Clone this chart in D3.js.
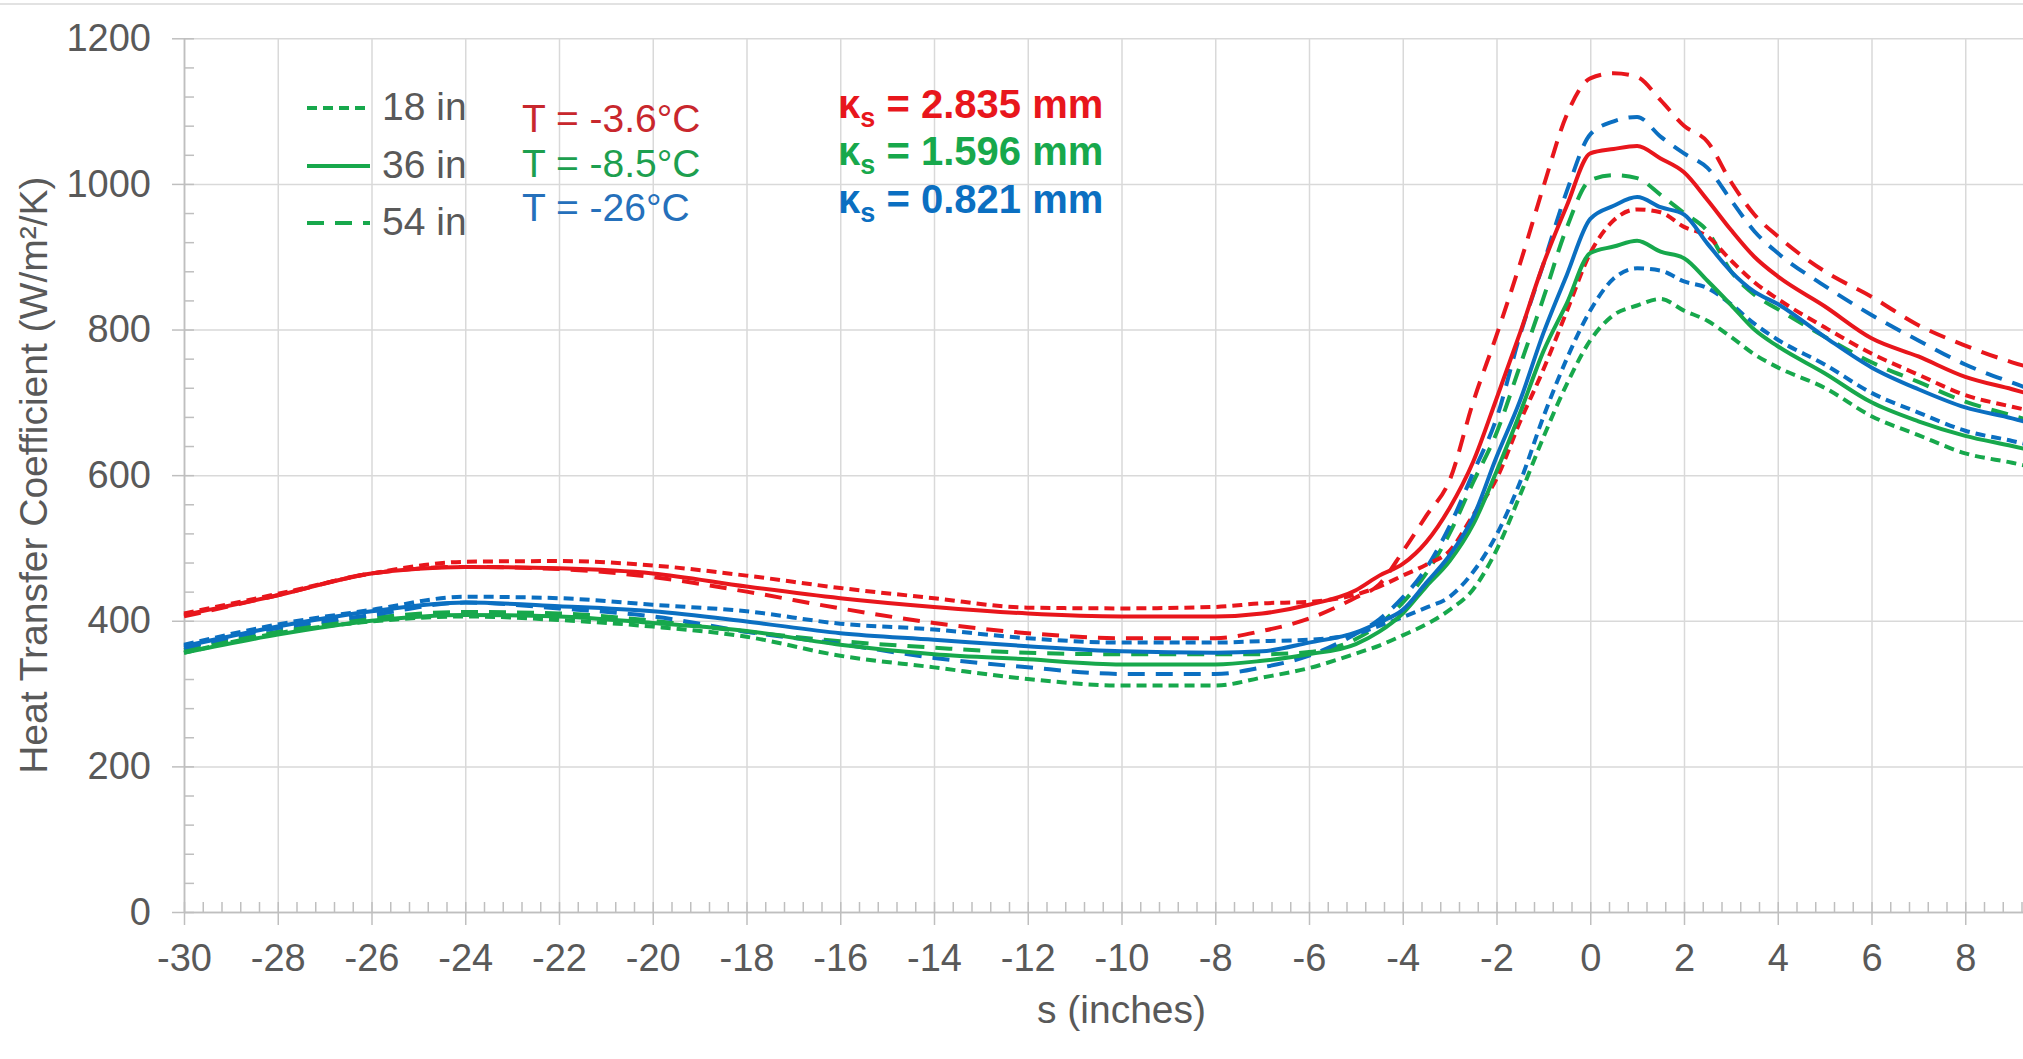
<!DOCTYPE html>
<html lang="en">
<head>
<meta charset="UTF-8">
<title>Heat Transfer Coefficient</title>
<script src="https://cdnjs.cloudflare.com/ajax/libs/d3/7.8.5/d3.min.js"></script>
<style>
  body { margin: 0; background: #fff; overflow: hidden; }
  svg { display: block; font-family: "Liberation Sans", Arial, sans-serif; }
  .axis text { fill: #595959; font-size: 38px; }
  .axis path, .axis line { stroke: #bfbfbf; stroke-width: 1.5px; }
  .grid line { stroke: #d9d9d9; stroke-width: 1.5px; }
  .grid path { display: none; }
  .label { fill: #595959; font-size: 39px; }
</style>
</head>
<body>
<svg id="chart" width="2023" height="1059"></svg>
<script>
// s positions (inches) shared by all curves
var sValues = [-30, -28, -26, -24, -22, -20, -18, -16, -14, -12, -10, -8, -7, -6, -5, -4.5, -4, -3.5, -3, -2.5,
               -2, -1.5, -1, -0.5, 0, 0.5, 1, 1.5, 2, 2.5, 3, 3.5, 4, 5, 6, 7, 8, 9, 10];

// T = -3.6°C (red)
var red18 = [410, 437, 465, 481, 482, 476, 462, 445, 431, 418, 417, 419, 424, 426, 436, 447, 462, 477, 496, 545,
             595, 673, 745, 825, 905, 950, 965, 961, 941, 928, 895, 865, 842, 803, 767, 738, 710, 694, 680];
var red36 = [408, 435, 465, 474, 472, 465, 447, 431, 419, 410, 406, 406, 410, 422, 442, 462, 478, 508, 555, 618,
             705, 795, 890, 970, 1042, 1048, 1052, 1035, 1016, 978, 937, 900, 873, 832, 788, 763, 735, 718, 700];
var red54 = [406, 435, 465, 474, 471, 460, 440, 417, 397, 383, 376, 376, 386, 403, 432, 450, 495, 544, 593, 700,
             792, 890, 996, 1095, 1145, 1152, 1147, 1115, 1080, 1058, 1003, 958, 928, 880, 845, 806, 778, 755, 738];

// T = -8.5°C (green)
var green18 = [356, 383, 399, 406, 401, 392, 378, 352, 336, 320, 311, 311, 322, 335, 355, 366, 380, 395, 415, 443,
               497, 572, 652, 725, 785, 820, 833, 842, 826, 812, 790, 766, 748, 720, 681, 655, 630, 617, 603];
var green36 = [356, 381, 400, 408, 406, 397, 386, 367, 354, 347, 340, 340, 345, 354, 368, 385, 410, 447, 482, 532,
               605, 685, 770, 836, 905, 914, 922, 907, 898, 867, 834, 800, 777, 740, 700, 674, 654, 640, 625];
var green54 = [360, 385, 404, 412, 410, 400, 385, 372, 363, 356, 354, 354, 354, 357, 375, 395, 425, 465, 520, 590,
               658, 750, 843, 940, 1005, 1012, 1008, 985, 960, 935, 880, 848, 828, 790, 755, 728, 701, 682, 664];

// T = -26°C (blue)
var blue18 = [367, 395, 415, 433, 431, 422, 413, 396, 388, 376, 370, 370, 372, 374, 382, 393, 405, 418, 433, 467,
              518, 590, 680, 760, 826, 870, 884, 881, 866, 857, 835, 808, 786, 752, 713, 686, 661, 647, 632];
var blue36 = [365, 392, 413, 425, 420, 413, 399, 383, 374, 365, 358, 356, 358, 370, 384, 398, 415, 452, 490, 542,
              625, 702, 795, 875, 952, 970, 982, 968, 958, 918, 880, 852, 835, 790, 748, 718, 693, 678, 660];
var blue54 = [363, 390, 408, 425, 417, 406, 385, 368, 349, 336, 327, 327, 336, 352, 382, 402, 432, 472, 530, 603,
              678, 792, 890, 990, 1068, 1086, 1092, 1065, 1042, 1022, 978, 935, 905, 860, 820, 785, 752, 727, 705];

var distances = ["18 in", "36 in", "54 in"];
var tempLabels = ["T = -3.6°C", "T = -8.5°C", "T = -26°C"];
var kappaValues = ["2.835", "1.596", "0.821"];
var xTicks = d3.range(-30, 9, 2);
var yTicks = d3.range(0, 1201, 200);

var lineColors = ["#e8161c", "#17a84c", "#0b6fc1"];
var textColors = ["#c8272d", "#1d9f4f", "#2570bb"];
var dashes = {"18 in": "10,6", "36 in": null, "54 in": "17,11"};

var series = [
  {name: "54 in", color: lineColors[1], values: green54},
  {name: "54 in", color: lineColors[2], values: blue54},
  {name: "54 in", color: lineColors[0], values: red54},
  {name: "18 in", color: lineColors[1], values: green18},
  {name: "18 in", color: lineColors[2], values: blue18},
  {name: "18 in", color: lineColors[0], values: red18},
  {name: "36 in", color: lineColors[1], values: green36},
  {name: "36 in", color: lineColors[2], values: blue36},
  {name: "36 in", color: lineColors[0], values: red36}
];

var svg = d3.select("#chart");
var plotLeft = 184, plotRight = 2059, plotTop = 38.3, plotBottom = 912;

var x = d3.scaleLinear().domain([-30, 10]).range([plotLeft, plotRight]);
var y = d3.scaleLinear().domain([0, 1200]).range([plotBottom, plotTop]);

// outer frame edge
svg.append("line")
    .attr("x1", 0).attr("x2", 2023).attr("y1", 4).attr("y2", 4)
    .style("stroke", "#d9d9d9").style("stroke-width", "1.5px");

// gridlines
svg.append("g").attr("class", "grid")
    .attr("transform", "translate(0," + plotBottom + ")")
    .call(d3.axisBottom(x).tickValues(d3.range(-28, 11, 2)).tickSize(-(plotBottom - plotTop)).tickFormat(""));
svg.append("g").attr("class", "grid")
    .attr("transform", "translate(" + plotLeft + ",0)")
    .call(d3.axisLeft(y).tickValues(yTicks.slice(1)).tickSize(-(plotRight - plotLeft)).tickFormat(""));

// minor ticks (inside)
var xMinor = d3.range(0, 101).map(i => -30 + i * 0.4);
var yMinor = d3.range(0, 31).map(i => i * 40);
svg.append("g").attr("class", "axis")
    .attr("transform", "translate(0," + plotBottom + ")")
    .call(d3.axisTop(x).tickValues(xMinor).tickSize(10).tickSizeOuter(0).tickFormat(""));
svg.append("g").attr("class", "axis")
    .attr("transform", "translate(" + plotLeft + ",0)")
    .call(d3.axisRight(y).tickValues(yMinor).tickSize(10).tickSizeOuter(0).tickFormat(""));

// major axes
svg.append("g").attr("class", "axis")
    .attr("transform", "translate(0," + plotBottom + ")")
    .call(d3.axisBottom(x).tickValues(xTicks).tickSize(13).tickPadding(19).tickSizeOuter(0)
        .tickFormat(d => String(d)));
svg.append("g").attr("class", "axis")
    .attr("transform", "translate(" + plotLeft + ",0)")
    .call(d3.axisLeft(y).tickValues(yTicks).tickSize(12).tickPadding(21).tickSizeOuter(0)
        .tickFormat(d => String(d)));

// curves
var line = d3.line()
    .x((d, i) => x(sValues[i]))
    .y(d => y(d))
    .curve(d3.curveMonotoneX);

svg.append("g")
    .selectAll("path")
    .data(series)
    .enter()
    .append("path")
        .attr("d", d => line(d.values))
        .attr("fill", "none")
        .attr("stroke", d => d.color)
        .attr("stroke-width", 4)
        .attr("stroke-dasharray", d => dashes[d.name]);

// axis titles
svg.append("text").attr("class", "label")
    .attr("x", (plotLeft + plotRight) / 2).attr("y", 1023)
    .attr("text-anchor", "middle")
    .text("s (inches)");
svg.append("text").attr("class", "label")
    .attr("transform", "translate(47," + (plotTop + plotBottom) / 2 + ") rotate(-90)")
    .attr("text-anchor", "middle")
    .text("Heat Transfer Coefficient (W/m²/K)");

// line style legend
var legendY = [108, 166, 223];
distances.forEach(function(name, i) {
    svg.append("line")
        .attr("x1", 307).attr("x2", 370)
        .attr("y1", legendY[i]).attr("y2", legendY[i])
        .attr("stroke", lineColors[1])
        .attr("stroke-width", 4)
        .attr("stroke-dasharray", dashes[name]);
    svg.append("text").attr("class", "label")
        .attr("x", 382).attr("y", legendY[i] + 12)
        .text(name);
});

// temperature labels
var tempY = [132, 177, 221];
tempLabels.forEach(function(t, i) {
    svg.append("text")
        .attr("x", 522).attr("y", tempY[i])
        .style("font-size", "39px")
        .style("fill", textColors[i])
        .text(t);
});

// roughness labels
var kappaY = [118, 165, 213];
kappaValues.forEach(function(k, i) {
    var t = svg.append("text")
        .attr("x", 838).attr("y", kappaY[i])
        .style("font-size", "40px")
        .style("font-weight", "bold")
        .style("white-space", "pre")
        .style("fill", lineColors[i]);
    t.append("tspan").text("κ");
    t.append("tspan").attr("dy", 9).style("font-size", "27px").text("s");
    t.append("tspan").attr("dy", -9).text(" = " + k + " mm");
});
</script>
</body>
</html>
